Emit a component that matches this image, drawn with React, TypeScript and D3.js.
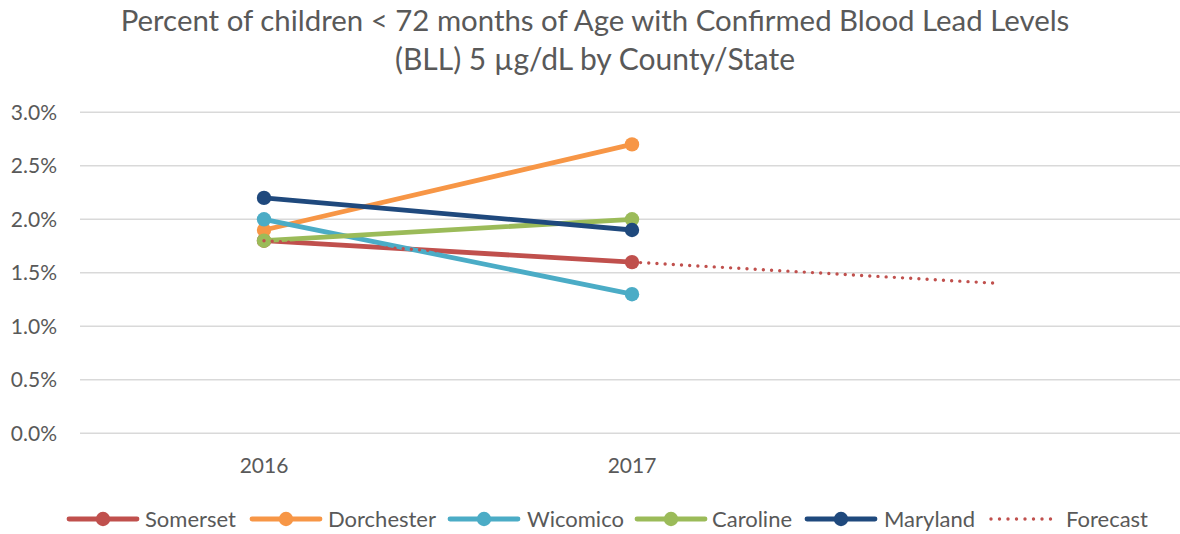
import React from "react";
import * as d3 from "d3";

// Categories along the x axis; the third slot only carries the forecast point
const years = ["2016", "2017", "2018"];
const yearLabels = ["2016", "2017", ""];

// Percent of children (< 72 months) with confirmed BLL >= 5 µg/dL
const somerset = [1.8, 1.6];
const dorchester = [1.9, 2.7];
const wicomico = [2.0, 1.3];
const caroline = [1.8, 2.0];
const maryland = [2.2, 1.9];
const forecast = [1.8, 1.6, 1.4];

const yTicks = [0, 0.5, 1.0, 1.5, 2.0, 2.5, 3.0];

const series = [
  { name: "Somerset", values: somerset, color: "#C0504D" },
  { name: "Dorchester", values: dorchester, color: "#F79646" },
  { name: "Wicomico", values: wicomico, color: "#4BACC6" },
  { name: "Caroline", values: caroline, color: "#9BBB59" },
  { name: "Maryland", values: maryland, color: "#1F497D" },
];

const W = 1180;
const H = 534;
const FONT = "Lato, 'Open Sans', sans-serif";
const TEXT = "#595959";

export default function App() {
  const x = d3.scaleBand<string>().domain(years).range([80, 1184]);
  const cx = (i: number) => (x(years[i]) as number) + x.bandwidth() / 2;
  const y = d3.scaleLinear().domain([0, 3]).range([433.3, 112.3]);

  const line = d3
    .line<number>()
    .x((_, i) => cx(i))
    .y((d) => y(d));

  const legendItems = [
    { name: "Somerset", color: "#C0504D", lx: 67, tx: 145 },
    { name: "Dorchester", color: "#F79646", lx: 250, tx: 328 },
    { name: "Wicomico", color: "#4BACC6", lx: 448, tx: 527 },
    { name: "Caroline", color: "#9BBB59", lx: 635, tx: 712 },
    { name: "Maryland", color: "#1F497D", lx: 805, tx: 884 },
  ];
  const legendY = 519;

  return (
    <svg
      width={W}
      height={H}
      style={{ position: "absolute", left: 0, top: 0, background: "#fff" }}
      fontFamily={FONT}
    >
      {/* title */}
      <text x={595} y={31} textAnchor="middle" fontSize={29.4} fill={TEXT}>
        Percent of children &lt; 72 months of Age with Confirmed Blood Lead Levels
      </text>
      <text x={595} y={70} textAnchor="middle" fontSize={30} fill={TEXT}>
        (BLL) 5 µg/dL by County/State
      </text>

      {/* gridlines and y tick labels */}
      {yTicks.map((t) => (
        <g key={t}>
          <line x1={80} x2={1184} y1={y(t)} y2={y(t)} stroke="#D9D9D9" strokeWidth={1.6} />
          <text
            x={57}
            y={y(t)}
            dy="0.35em"
            textAnchor="end"
            fontSize={21}
            fill={TEXT}
          >
            {t.toFixed(1)}%
          </text>
        </g>
      ))}

      {/* x labels */}
      {yearLabels.map((l, i) =>
        l ? (
          <text key={l} x={cx(i)} y={473} textAnchor="middle" fontSize={21} fill={TEXT}>
            {l}
          </text>
        ) : null
      )}

      {/* series lines and markers */}
      {series.map((s) => (
        <g key={s.name}>
          <path
            d={line(s.values) as string}
            fill="none"
            stroke={s.color}
            strokeWidth={4.8}
            strokeLinecap="round"
          />
          {s.values.map((v, i) => (
            <circle key={i} cx={cx(i)} cy={y(v)} r={7.2} fill={s.color} />
          ))}
        </g>
      ))}

      {/* forecast trend */}
      <path
        d={line(forecast) as string}
        fill="none"
        stroke="#C0504D"
        strokeWidth={3.4}
        strokeLinecap="round"
        strokeDasharray="0 8.2"
      />

      {/* legend */}
      {legendItems.map((it) => (
        <g key={it.name}>
          <line
            x1={it.lx + 2}
            x2={it.lx + 70}
            y1={legendY}
            y2={legendY}
            stroke={it.color}
            strokeWidth={4.8}
            strokeLinecap="round"
          />
          <circle cx={it.lx + 36} cy={legendY} r={7.2} fill={it.color} />
          <text x={it.tx} y={legendY} dy="0.35em" fontSize={22} fill={TEXT}>
            {it.name}
          </text>
        </g>
      ))}
      <line
        x1={991}
        x2={1059}
        y1={legendY}
        y2={legendY}
        stroke="#C0504D"
        strokeWidth={3.4}
        strokeLinecap="round"
        strokeDasharray="0 8.5"
      />
      <text x={1066} y={legendY} dy="0.35em" fontSize={22} fill={TEXT}>
        Forecast
      </text>
    </svg>
  );
}
